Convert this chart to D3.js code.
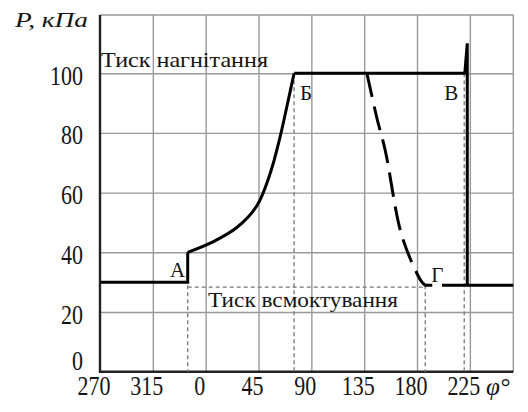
<!DOCTYPE html>
<html>
<head>
<meta charset="utf-8">
<script src="https://cdn.jsdelivr.net/npm/d3@7"></script>
<style>
body{margin:0;background:#fff;}
text{font-family:"Liberation Serif","Times New Roman",serif;fill:#151515;}
</style>
</head>
<body>
<div id="chart"></div>
<script>
// angle ticks: 270 and 315 are drawn as -90 / -45 so the axis runs continuously
const xTicks = [-90, -45, 0, 45, 90, 135, 180, 225];
const xTickLabels = ['270', '315', '0', '45', '90', '135', '180', '225'];
const yTicks = [0, 20, 40, 60, 80, 100];

// suction line up to A
const suctionPhi = [-90, -15.3, -15.3];
const suctionP = [30, 30, 40];
// compression A -> Б
const compressionPhi = [-15.3, 6.6, 26.5, 43.6, 54.9, 63.4, 69.1, 75.3];
const compressionP = [40, 43.6, 48.3, 55.6, 66.4, 78.7, 88.7, 100];
// discharge Б -> В, valve peak and drop
const dischargePhi = [75.3, 220.7, 222.8, 222.8, 262];
const dischargeP = [100, 100, 110, 29, 29];
// expansion (dashed) down to Г and on to the drop
const expansionPhi = [137.3, 145.8, 152.9, 165.7, 175.7, 184.2, 187, 222.8];
const expansionP = [100, 85, 74.2, 47.5, 36.5, 30, 29, 29];

// characteristic points
const pointNames = ['А', 'Б', 'В', 'Г'];
const pointPhi = [-15.3, 75.3, 220.2, 187];
const pointP = [29, 100, 100, 29];

let dim = {'width': 528, 'height': 412};

let svg = d3.select('#chart').append('svg')
    .attr('width', dim.width)
    .attr('height', dim.height)
    .style('background', 'white');

let x = d3.scaleLinear().domain([-90, 262]).range([100, 513.3]);
let y = d3.scaleLinear().domain([0, 119.5]).range([371.7, 15]);

let plotTop = y.range()[1], plotBottom = y.range()[0];
let plotLeft = x.range()[0], plotRight = x.range()[1];

// grid
svg.append('g')
    .attr('transform', 'translate(0,' + plotBottom + ')')
    .call(d3.axisBottom(x).tickValues(xTicks.slice(1)).tickSize(-(plotBottom - plotTop)).tickFormat(''))
    .call(g => g.select('.domain').remove())
    .call(g => g.selectAll('line').attr('stroke', '#999').attr('stroke-width', 1.4));

svg.append('g')
    .attr('transform', 'translate(' + plotLeft + ',0)')
    .call(d3.axisLeft(y).tickValues(yTicks.slice(1)).tickSize(-(plotRight - plotLeft)).tickFormat(''))
    .call(g => g.select('.domain').remove())
    .call(g => g.selectAll('line').attr('stroke', '#999').attr('stroke-width', 1.4));

// frame: top and right thin, left and bottom heavy
svg.append('path')
    .attr('d', 'M' + plotLeft + ',' + plotTop + 'H' + plotRight + 'V' + plotBottom)
    .attr('fill', 'none').attr('stroke', '#999').attr('stroke-width', 1.4);
svg.append('path')
    .attr('d', 'M' + plotLeft + ',' + plotTop + 'V' + plotBottom + 'H' + plotRight)
    .attr('fill', 'none').attr('stroke', '#222').attr('stroke-width', 2.4);

// thin dashed guides from the points down to the axis
svg.selectAll('.guide')
    .data(pointPhi)
    .join('line')
    .attr('class', 'guide')
    .attr('x1', d => x(d)).attr('x2', d => x(d))
    .attr('y1', (d, i) => y(pointP[i])).attr('y2', plotBottom)
    .attr('stroke', '#777').attr('stroke-width', 1.3).attr('stroke-dasharray', '4,3');

svg.append('line')
    .attr('x1', x(pointPhi[0])).attr('x2', x(pointPhi[3]))
    .attr('y1', y(pointP[0]) + 2).attr('y2', y(pointP[0]) + 2)
    .attr('stroke', '#777').attr('stroke-width', 1.3).attr('stroke-dasharray', '4,3');

// text of the two pressure levels
svg.append('text')
    .attr('x', 101).attr('y', 67.3)
    .attr('textLength', 167).attr('lengthAdjust', 'spacingAndGlyphs')
    .style('font-size', '21px')
    .text('Тиск нагнітання');
svg.append('text')
    .attr('x', 208).attr('y', 306.7)
    .attr('textLength', 190).attr('lengthAdjust', 'spacingAndGlyphs')
    .style('font-size', '21px')
    .text('Тиск всмоктування');

// cycle curve
let line = d3.line().x(d => x(d[0])).y(d => y(d[1]));
let smooth = d3.line().x(d => x(d[0])).y(d => y(d[1])).curve(d3.curveCatmullRom.alpha(0.5));

svg.append('path')
    .datum(d3.zip(suctionPhi, suctionP))
    .attr('d', line)
    .attr('fill', 'none').attr('stroke', '#000').attr('stroke-width', 3);
svg.append('path')
    .datum(d3.zip(compressionPhi, compressionP))
    .attr('d', smooth)
    .attr('fill', 'none').attr('stroke', '#000').attr('stroke-width', 3);
svg.append('path')
    .datum(d3.zip(dischargePhi, dischargeP))
    .attr('d', line)
    .attr('fill', 'none').attr('stroke', '#000').attr('stroke-width', 3)
    .attr('stroke-linejoin', 'miter');

// dashed expansion: pick the dash period so a gap falls just right of Г like in the original
let expCurve = d3.zip(expansionPhi.slice(0, 7), expansionP.slice(0, 7));
let expPath = svg.append('path')
    .attr('d', smooth(expCurve) + 'L' + x(expansionPhi[7]) + ',' + y(expansionP[7]))
    .attr('fill', 'none').attr('stroke', '#000').attr('stroke-width', 3);
let curveOnly = svg.append('path').attr('d', smooth(expCurve));
let gapStart = curveOnly.node().getTotalLength() + 7;
curveOnly.remove();
let k = Math.round(gapStart / 35 - 25 / 35);
let period = gapStart / (k + 25 / 35);
expPath.attr('stroke-dasharray', (period * 25 / 35) + ',' + (period * 10 / 35));

// point letters
let letterOffset = [[-10, -8], [12, 27], [-13, 27], [12, -3.5]];
svg.selectAll('.pt')
    .data(pointNames)
    .join('text')
    .attr('class', 'pt')
    .attr('x', (d, i) => x(pointPhi[i]) + letterOffset[i][0])
    .attr('y', (d, i) => y(pointP[i]) + letterOffset[i][1])
    .attr('text-anchor', 'middle')
    .style('font-size', '21px')
    .text(d => d);

// tick labels (slightly stretched vertically as in the original)
svg.selectAll('.xlab')
    .data(xTicks)
    .join('text')
    .attr('class', 'xlab')
    .attr('transform', d => 'translate(' + (x(d) - 6) + ',395) scale(1,1.2)')
    .attr('text-anchor', 'middle')
    .style('font-size', '22px')
    .text((d, i) => xTickLabels[i]);

svg.selectAll('.ylab')
    .data(yTicks)
    .join('text')
    .attr('class', 'ylab')
    .attr('transform', d => 'translate(83,' + (d === 0 ? y(d) - 1.5 : y(d) + 11.5) + ') scale(1,1.2)')
    .attr('text-anchor', 'end')
    .style('font-size', '22px')
    .text(d => d);

// axis titles
svg.append('text')
    .attr('x', 15).attr('y', 26.7)
    .attr('textLength', 73).attr('lengthAdjust', 'spacingAndGlyphs')
    .style('font-size', '22px').style('font-style', 'italic')
    .text('P, кПа');
svg.append('text')
    .attr('x', 486).attr('y', 395)
    .style('font-size', '25px').style('font-style', 'italic')
    .text('φ°');
</script>
</body>
</html>
